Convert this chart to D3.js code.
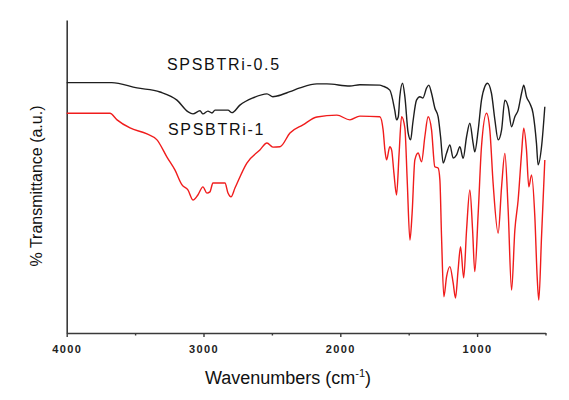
<!DOCTYPE html>
<html>
<head>
<meta charset="utf-8">
<script src="https://cdn.jsdelivr.net/npm/d3@7"></script>
<style>
  html, body { margin: 0; padding: 0; background: #fff; }
  svg { display: block; font-family: Arial, "Liberation Sans", sans-serif; }
</style>
</head>
<body>
<svg id="chart" width="569" height="400"></svg>
<script>
// Wavenumber (cm-1) and transmittance (a.u.)
const wavenumbersA = [4000,3671,3486,3318,3194,3114,3077,3026,3004,2968,2938,2916,2821,2792,2734,2639,2536,2493,2463,2368,2295,2171,2098,1930,1857,1711,1689,1638,1602,1589,1576,1565,1545,1528,1504,1486,1470,1443,1418,1396,1369,1353,1333,1309,1285,1267,1248,1223,1199,1175,1150,1126,1102,1077,1053,1029,1017,992,968,944,924,895,870,846,821,797,773,748,724,700,675,659,639,615,591,566,554,529,505];
const transmittanceA = [80.0,80.0,78.3,77.0,74.4,70.7,70.0,71.0,70.0,70.9,70.3,71.2,71.2,70.4,72.8,75.1,76.4,75.5,75.7,77.1,78.3,79.6,79.6,78.9,79.3,79.2,78.9,77.6,71.2,68.1,69.1,75.5,79.8,75.5,63.9,61.7,67.1,74.4,75.5,75.1,78.3,79.2,76.6,71.9,69.1,62.7,54.3,57.5,60.1,55.9,56.9,59.5,55.8,62.7,67.0,60.6,57.9,64.9,74.4,78.7,79.8,76.6,68.1,61.7,64.9,74.4,72.3,65.9,69.1,71.2,76.6,79.2,75.5,73.4,70.2,60.6,53.7,59.5,72.3];

const wavenumbersB = [4000,3684,3632,3537,3413,3340,3267,3209,3157,3114,3077,3041,3004,2975,2953,2931,2843,2821,2799,2770,2683,2588,2536,2493,2441,2368,2273,2171,2025,1930,1857,1711,1687,1674,1662,1638,1625,1608,1589,1570,1552,1528,1511,1491,1475,1455,1431,1406,1382,1358,1333,1309,1285,1272,1260,1243,1223,1199,1175,1158,1139,1121,1098,1077,1053,1033,1017,992,968,931,907,883,846,821,797,773,748,724,700,675,659,639,622,602,578,561,549,529,505];
const transmittanceB = [70.2,70.2,68.1,65.5,63.6,61.7,56.2,52.1,47.3,45.7,42.5,44.1,46.7,44.7,45.1,47.9,47.9,44.7,43.5,46.3,54.3,58.5,60.7,59.4,59.5,63.9,66.5,69.0,69.6,68.1,69.3,69.1,64.9,58.5,55.3,59.5,58.5,51.1,44.1,57.5,69.1,65.5,48.9,29.7,38.3,55.3,57.5,54.7,62.7,69.1,64.9,53.1,52.7,48.9,30.8,11.6,18.0,21.2,16.0,11.2,20.1,27.6,17.6,32.9,45.7,32.9,19.6,38.3,59.5,70.2,64.9,47.9,31.9,46.7,57.4,39.3,13.7,32.9,42.5,57.4,65.4,58.5,46.7,50.5,37.2,18.0,10.5,30.8,55.3];

const seriesNames = ["SPSBTRi-0.5", "SPSBTRi-1"];
const majorTicks = [4000, 3000, 2000, 1000];
const minorTicks = [3500, 2500, 1500, 500];
const xTitle = "Wavenumbers (cm";
const yTitle = "% Transmittance (a.u.)";

const svg = d3.select("#chart");
const x = d3.scaleLinear().domain([4000, 500]).range([66.7, 545.5]);
const y = d3.scaleLinear().domain([0, 100]).range([333, 20]);

const axisColor = "#3a3a3a";

// Bottom axis with major ticks
const gx = svg.append("g").attr("transform", "translate(0,333)")
  .call(d3.axisBottom(x).tickValues(majorTicks).tickSize(4).tickSizeOuter(0)
    .tickPadding(8).tickFormat(d3.format("d")));
gx.select(".domain").attr("stroke", axisColor).attr("stroke-width", 1.6);
gx.selectAll(".tick line").attr("stroke", axisColor).attr("stroke-width", 1.4);
gx.selectAll(".tick text").attr("font-size", 11).attr("font-weight", "bold")
  .attr("fill", "#222").attr("letter-spacing", "1.4px")
  .attr("font-family", "Arial, 'Liberation Sans', sans-serif");

// Minor ticks
const gm = svg.append("g").attr("transform", "translate(0,333)")
  .call(d3.axisBottom(x).tickValues(minorTicks).tickSize(2.5).tickSizeOuter(0).tickFormat(""));
gm.select(".domain").remove();
gm.selectAll(".tick line").attr("stroke", axisColor).attr("stroke-width", 1.4);

// Left axis (no ticks)
const gy = svg.append("g").attr("transform", "translate(66.7,0)")
  .call(d3.axisLeft(y).tickValues([]).tickSizeOuter(0));
gy.select(".domain").attr("stroke", axisColor).attr("stroke-width", 1.6);

// Lines
const line = d3.line().x(d => x(d[0])).y(d => y(d[1])).curve(d3.curveMonotoneX);
const dataA = wavenumbersA.map((w, i) => [w, transmittanceA[i]]);
const dataB = wavenumbersB.map((w, i) => [w, transmittanceB[i]]);

svg.append("path").datum(dataA).attr("d", line)
  .attr("fill", "none").attr("stroke", "#1e1e1e").attr("stroke-width", 1.4)
  .attr("stroke-linejoin", "round");
svg.append("path").datum(dataB).attr("d", line)
  .attr("fill", "none").attr("stroke", "#f01c1c").attr("stroke-width", 1.4)
  .attr("stroke-linejoin", "round");

// Series labels
svg.append("text").attr("x", 167).attr("y", 70).text(seriesNames[0])
  .attr("font-size", 16).attr("letter-spacing", "1.7px").attr("fill", "#111");
svg.append("text").attr("x", 168).attr("y", 135).text(seriesNames[1])
  .attr("font-size", 16).attr("letter-spacing", "1.7px").attr("fill", "#111");

// Axis titles
const xt = svg.append("text").attr("x", 288).attr("y", 384)
  .attr("text-anchor", "middle").attr("font-size", 18).attr("fill", "#111");
xt.append("tspan").text(xTitle);
xt.append("tspan").attr("font-size", 11).attr("dy", -7).text("-1");
xt.append("tspan").attr("dy", 7).text(")");

svg.append("text").attr("transform", "translate(42,186) rotate(-90)")
  .attr("text-anchor", "middle").attr("font-size", 16).attr("fill", "#111")
  .text(yTitle);
</script>
</body>
</html>
